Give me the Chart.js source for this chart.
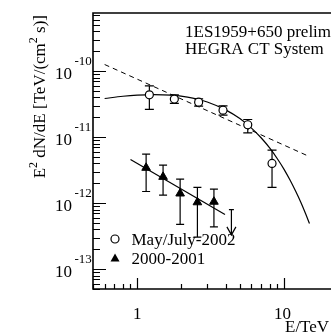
<!DOCTYPE html>
<html>
<head>
<meta charset="utf-8">
<script src="https://cdn.jsdelivr.net/npm/chart.js@4"></script>
<style>
  html, body { margin: 0; padding: 0; background: #fff; }
</style>
</head>
<body>
<canvas id="c" width="331" height="334"></canvas>
<script>
// May/July 2002 flare spectrum (open circles)
const flareE    = [1.21, 1.79, 2.62, 3.84, 5.66, 8.28];
const flareFlux = [4.37e-11, 3.77e-11, 3.39e-11, 2.56e-11, 1.54e-11, 4.0e-12];
const flareHi   = [5.99e-11, 4.37e-11, 3.80e-11, 2.98e-11, 1.85e-11, 6.35e-12];
const flareLo   = [2.63e-11, 3.24e-11, 2.95e-11, 2.16e-11, 1.16e-11, 1.73e-12];

// 2000-2001 spectrum (filled triangles)
const lowE    = [1.15, 1.50, 1.96, 2.57, 3.33];
const lowFlux = [3.43e-12, 2.50e-12, 1.40e-12, 1.03e-12, 1.05e-12];
const lowHi   = [5.52e-12, 3.77e-12, 2.31e-12, 1.73e-12, 1.63e-12];
const lowLo   = [1.50e-12, 1.32e-12, 4.75e-13, 3.05e-13, 4.38e-13];

// upper limit arrow
const ulE    = [4.38];
const ulFrom = [8.0e-13];
const ulTo   = [3.3e-13];

// curves
const cutE    = [0.6, 0.8, 1, 1.3, 1.7, 2.2, 2.6, 3, 4, 5, 6, 7, 8, 9, 10, 11, 12, 13, 14, 14.9];
const cutFlux = [3.85e-11, 4.16e-11, 4.33e-11, 4.42e-11, 4.32e-11, 4.03e-11, 3.73e-11, 3.40e-11, 2.59e-11,
                 1.91e-11, 1.37e-11, 9.7e-12, 6.8e-12, 4.7e-12, 3.25e-12, 2.22e-12, 1.51e-12, 1.03e-12,
                 6.95e-13, 4.9e-13];
const pwlE    = [0.6, 14.5];
const pwlFlux = [1.26e-10, 5.21e-12];
const lowFitE    = [0.90, 3.96];
const lowFitFlux = [4.59e-12, 6.74e-13];

const yDecades = [-13, -12, -11, -10];
const xMajor = [1, 10];
const xLabels = ['1', '10'];

const pts = (xs, ys) => xs.map((x, i) => ({ x: x, y: ys[i] }));
const FONT = '"Liberation Serif", "Times New Roman", serif';

const drawPlot = {
    id: 'drawPlot',
    beforeDatasetsDraw(chart) {
        const ctx = chart.ctx, xs = chart.scales.x, ys = chart.scales.y;
        ctx.save();
        ctx.strokeStyle = '#000';
        ctx.lineWidth = 1.2;
        function bar(e, lo, hi, cap, gap) {
            const x = xs.getPixelForValue(e);
            const y = ys.getPixelForValue(0);
            const yl = ys.getPixelForValue(lo), yh = ys.getPixelForValue(hi);
            ctx.beginPath();
            ctx.moveTo(x, yl); ctx.lineTo(x, yh);
            ctx.moveTo(x - cap, yl); ctx.lineTo(x + cap, yl);
            ctx.moveTo(x - cap, yh); ctx.lineTo(x + cap, yh);
            ctx.stroke();
        }
        flareE.forEach((e, i) => bar(e, flareLo[i], flareHi[i], 4.5));
        lowE.forEach((e, i) => bar(e, lowLo[i], lowHi[i], 4));
        ulE.forEach((e, i) => {
            const x = xs.getPixelForValue(e);
            const y1 = ys.getPixelForValue(ulFrom[i]), y2 = ys.getPixelForValue(ulTo[i]);
            ctx.beginPath();
            ctx.moveTo(x - 2.5, y1); ctx.lineTo(x + 2.5, y1);
            ctx.moveTo(x, y1); ctx.lineTo(x, y2);
            ctx.moveTo(x - 4.5, y2 - 8); ctx.lineTo(x, y2); ctx.lineTo(x + 4.5, y2 - 8);
            ctx.stroke();
        });
        ctx.restore();
    },
    afterDraw(chart) {
        const ctx = chart.ctx, xs = chart.scales.x, ys = chart.scales.y;
        const a = chart.chartArea;
        ctx.save();
        ctx.strokeStyle = '#000';
        ctx.fillStyle = '#000';

        // frame
        ctx.lineWidth = 1.6;
        ctx.beginPath();
        ctx.moveTo(chart.width, a.top);
        ctx.lineTo(a.left, a.top);
        ctx.lineTo(a.left, a.bottom);
        ctx.lineTo(chart.width, a.bottom);
        ctx.stroke();

        // y ticks
        ctx.lineWidth = 1.2;
        ctx.beginPath();
        for (let n = -14; n <= -10; n++) {
            for (let k = 1; k <= 9; k++) {
                const v = k * Math.pow(10, n);
                if (v < ys.min || v > ys.max) continue;
                const y = Math.round(ys.getPixelForValue(v)) + 0.5;
                ctx.moveTo(a.left, y);
                ctx.lineTo(a.left + (k === 1 ? 13 : 7), y);
            }
        }
        // x ticks
        for (let n = -1; n <= 1; n++) {
            for (let k = 1; k <= 9; k++) {
                const v = k * Math.pow(10, n);
                if (v < xs.min || v > xs.max) continue;
                const x = Math.round(xs.getPixelForValue(v)) + 0.5;
                ctx.moveTo(x, a.bottom);
                ctx.lineTo(x, a.bottom - (k === 1 ? 11 : 5));
            }
        }
        ctx.stroke();

        // y tick labels 10^n
        yDecades.forEach(n => {
            const y = ys.getPixelForValue(Math.pow(10, n));
            ctx.font = '17px ' + FONT;
            ctx.textAlign = 'right';
            ctx.fillText('10', 72, y + 7.5);
            ctx.font = '13px ' + FONT;
            ctx.textAlign = 'left';
            ctx.fillText(String(n), 74.5, y - 6.5);
        });

        // x tick labels
        ctx.font = '17px ' + FONT;
        ctx.textAlign = 'center';
        xMajor.forEach((v, i) => {
            ctx.fillText(xLabels[i], xs.getPixelForValue(v) - (i ? 1.5 : 0), 319);
        });
        ctx.textAlign = 'left';
        ctx.fillText('E/TeV', 285, 332);

        // y axis title, rotated, with superscripts
        const parts = [['E', 17, 0], ['2', 12, -8], [' dN/dE [TeV/(cm', 17, 0], ['2', 12, -8], [' s)]', 17, 0]];
        let total = 0;
        parts.forEach(p => { ctx.font = p[1] + 'px ' + FONT; total += ctx.measureText(p[0]).width; });
        ctx.save();
        ctx.translate(45, 15);
        ctx.rotate(-Math.PI / 2);
        ctx.textAlign = 'left';
        let u = -total;
        parts.forEach(p => {
            ctx.font = p[1] + 'px ' + FONT;
            ctx.fillText(p[0], u, p[2]);
            u += ctx.measureText(p[0]).width;
        });
        ctx.restore();

        // source label
        ctx.font = '17px ' + FONT;
        ctx.textAlign = 'left';
        ctx.fillText('1ES1959+650 prelim', 185, 37);
        ctx.fillText('HEGRA CT System', 185, 53.5);

        // legend
        ctx.lineWidth = 1.2;
        ctx.beginPath();
        ctx.arc(115, 239, 4, 0, Math.PI * 2);
        ctx.stroke();
        ctx.beginPath();
        ctx.moveTo(115, 253.5);
        ctx.lineTo(119.5, 261.5);
        ctx.lineTo(110.5, 261.5);
        ctx.closePath();
        ctx.fill();
        ctx.fillText('May/July-2002', 131.5, 245);
        ctx.fillText('2000-2001', 131.5, 264);
        ctx.restore();
    }
};

new Chart(document.getElementById('c'), {
    type: 'scatter',
    data: {
        datasets: [
            {
                label: 'May/July-2002',
                data: pts(flareE, flareFlux),
                pointStyle: 'circle',
                pointRadius: 4,
                pointBackgroundColor: '#fff',
                pointBorderColor: '#000',
                pointBorderWidth: 1.2,
                showLine: false
            },
            {
                label: '2000-2001',
                data: pts(lowE, lowFlux),
                pointStyle: 'triangle',
                pointRadius: 5,
                pointBackgroundColor: '#000',
                pointBorderColor: '#000',
                pointBorderWidth: 1,
                showLine: false
            },
            {
                label: 'cutoff fit',
                data: pts(cutE, cutFlux),
                showLine: true,
                borderColor: '#000',
                borderWidth: 1.2,
                pointRadius: 0,
                tension: 0.4,
                cubicInterpolationMode: 'monotone'
            },
            {
                label: 'power law',
                data: pts(pwlE, pwlFlux),
                showLine: true,
                borderColor: '#000',
                borderWidth: 1,
                borderDash: [5, 4],
                pointRadius: 0
            },
            {
                label: 'low state fit',
                data: pts(lowFitE, lowFitFlux),
                showLine: true,
                borderColor: '#000',
                borderWidth: 1.2,
                pointRadius: 0
            }
        ]
    },
    options: {
        responsive: false,
        animation: false,
        devicePixelRatio: 1,
        layout: { padding: { left: 93, top: 13, right: 0, bottom: 45 } },
        plugins: { legend: { display: false }, tooltip: { enabled: false } },
        scales: {
            x: { type: 'logarithmic', min: 0.5, max: 19.0, display: false },
            y: { type: 'logarithmic', min: 5.0e-14, max: 7.6e-10, display: false }
        }
    },
    plugins: [drawPlot]
});
</script>
</body>
</html>
